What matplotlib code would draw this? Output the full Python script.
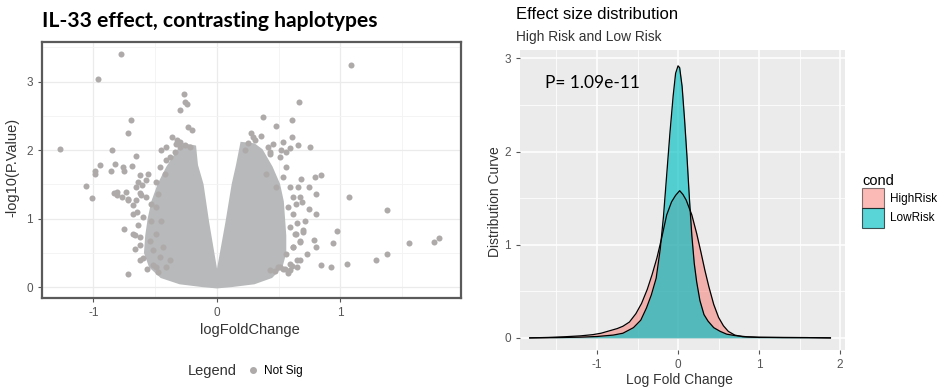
import matplotlib
matplotlib.use("Agg")
import matplotlib.pyplot as plt
from matplotlib.patches import Patch
from matplotlib.lines import Line2D

# --- volcano plot: hand-read points (logFoldChange, -log10 p) ---
pt_x = [-0.775, -0.964, -1.274, -0.267, -0.30, -0.262, -0.243, -0.694, -0.721, -0.85,
        -0.653, -0.95, -0.99, -0.985, -0.829, -0.856, -0.761, -0.756, -0.686, -1.063,
        -1.012, -0.834, -0.81, -0.734, -0.72, -0.756, -0.72, -0.564, -0.667, -0.235,
        -0.2, -0.364, -0.41, -0.33,
        -0.626, -0.559, -0.491, -0.653, -0.613, -0.572, -0.532, -0.653, -0.68, -0.599,
        -0.532, -0.68, -0.626, -0.545, -0.491, -0.518, -0.464, -0.626, -0.491, -0.41,
        -0.383, -0.437, -0.572, -0.464, -0.41, -0.383, -0.343, -0.424, -0.491, -0.451,
        -0.478, -0.302, -0.451,
        -0.326, -0.30, -0.26, -0.219, -0.81, -0.77, -0.718, -0.637, -0.61, -0.623,
        -0.678, -0.65, -0.637, -0.664, -0.623, -0.60, -0.516, -0.475,
        1.082, 0.664, 0.372, 0.48, 0.61, 0.61, 0.656, 0.756, 0.534, 0.278, 0.359,
        0.845, 0.79, 0.683, 1.069, 0.804, 0.745, 0.69, 0.745, 0.804, 1.379, 0.972,
        0.94, 1.552, 1.76, 1.80, 1.379, 1.29, 1.055, 0.926, 0.845, 0.696, 0.785, 0.80,
        0.534, 0.61, 0.65,
        0.507, 0.561, 0.534, 0.588, 0.615, 0.575, 0.615, 0.588, 0.642, 0.615, 0.561,
        0.588, 0.507, 0.467, 0.669, 0.710, 0.642, 0.656, 0.669, 0.521, 0.453, 0.426,
        0.291, 0.399, 0.48,
        0.253, 0.308, 0.227, 0.415, 0.43, 0.56, 0.59, 0.645, 0.632, 0.672, 0.618,
        0.70, 0.726, 0.672, 0.645, 0.59, 0.577, 0.496, 0.55, 0.43]
pt_y = [3.41, 3.04, 2.02, 2.82, 2.59, 2.70, 2.68, 2.44, 2.25, 2.0,
        1.92, 1.78, 1.70, 1.65, 1.80, 1.70, 1.75, 1.70, 1.77, 1.48,
        1.30, 1.37, 1.34, 1.39, 1.27, 0.85, 0.19, 0.27, 0.56, 2.34,
        2.30, 2.19, 2.04, 2.09,
        1.63, 1.65, 1.53, 1.46, 1.34, 1.31, 1.22, 1.27, 1.07, 1.02,
        0.97, 0.78, 0.73, 0.68, 0.78, 0.54, 0.44, 0.39, 0.29, 0.29,
        0.39, 0.58, 1.56, 1.75, 1.85, 1.90, 1.97, 1.65, 1.17, 0.97,
        1.36, 2.04, 2.00,
        2.15, 2.12, 2.07, 2.05, 1.39, 1.32, 1.29, 1.54, 1.49, 1.37,
        1.20, 1.10, 0.91, 0.76, 0.61, 0.42, 0.32, 0.22,
        3.25, 2.70, 2.49, 2.36, 2.44, 2.19, 2.08, 2.04, 2.12, 2.25, 2.21,
        1.64, 1.61, 1.58, 1.32, 1.36, 1.46, 1.24, 1.14, 1.07, 1.12, 0.82,
        0.64, 0.64, 0.66, 0.71, 0.49, 0.40, 0.34, 0.29, 0.32, 0.83, 0.69, 0.58,
        0.27, 0.31, 0.39,
        1.90, 1.75, 1.61, 1.46, 1.31, 1.17, 1.07, 0.88, 0.78, 0.58, 0.49,
        0.34, 0.29, 0.24, 0.68, 0.97, 1.22, 1.46, 1.31, 2.00, 2.09, 1.95,
        2.19, 1.65, 1.46,
        2.10, 2.15, 2.00, 2.05, 1.98, 1.98, 2.03, 0.93, 0.78, 0.66, 0.59,
        0.81, 0.49, 0.39, 0.30, 0.25, 0.20, 0.30, 0.27, 0.25]

# outline of the solid dense cloud (too many points to read one by one)
cloud_x = [0.0, -0.075, -0.12, -0.165, -0.18, -0.27, -0.31, -0.40, -0.47, -0.52, -0.55,
           -0.57, -0.58, -0.54, -0.45, -0.30, -0.12, 0.0, 0.12, 0.30, 0.44, 0.52, 0.55,
           0.55, 0.54, 0.53, 0.50, 0.44, 0.36, 0.30, 0.20, 0.165, 0.13, 0.08]
cloud_y = [0.15, 0.95, 1.5, 1.78, 2.05, 2.08, 2.0, 1.75, 1.5, 1.25, 1.0,
           0.75, 0.5, 0.3, 0.15, 0.06, 0.02, 0.0, 0.02, 0.06, 0.15, 0.3, 0.5,
           0.75, 1.0, 1.25, 1.5, 1.75, 2.0, 2.08, 2.1, 1.78, 1.5, 0.95]

# --- density curves ---
low_x = [-1.83, -1.5, -1.2, -1.0, -0.8, -0.68, -0.55, -0.46, -0.39, -0.33, -0.27, -0.22,
         -0.18, -0.14, -0.10, -0.06, -0.03, 0.0, 0.02, 0.05, 0.08, 0.11, 0.14, 0.17,
         0.20, 0.23, 0.27, 0.32, 0.37, 0.44, 0.52, 0.60, 0.70, 0.85, 1.0, 1.3, 1.6, 1.88]
low_y = [0.0, 0.003, 0.008, 0.015, 0.03, 0.05, 0.11, 0.19, 0.32, 0.46, 0.64, 0.95,
         1.30, 1.75, 2.20, 2.60, 2.84, 2.92, 2.90, 2.70, 2.35, 1.95, 1.50, 1.10,
         0.80, 0.60, 0.40, 0.25, 0.18, 0.11, 0.07, 0.04, 0.025, 0.012, 0.007, 0.004, 0.003, 0.0]
high_x = [-1.83, -1.6, -1.4, -1.2, -1.05, -0.95, -0.85, -0.75, -0.68, -0.6, -0.52, -0.45,
          -0.38, -0.32, -0.26, -0.2, -0.14, -0.08, -0.03, 0.02, 0.06, 0.1, 0.17, 0.23,
          0.28, 0.33, 0.38, 0.44, 0.5, 0.56, 0.62, 0.7, 0.8, 1.0, 1.3, 1.6, 1.88]
high_y = [0.0, 0.005, 0.012, 0.022, 0.035, 0.05, 0.075, 0.10, 0.125, 0.17, 0.26, 0.37,
          0.52, 0.68, 0.86, 1.08, 1.32, 1.46, 1.53, 1.58, 1.54, 1.48, 1.32, 1.12,
          0.93, 0.73, 0.55, 0.36, 0.22, 0.13, 0.07, 0.03, 0.012, 0.005, 0.004, 0.003, 0.0]

groups = ["HighRisk", "LowRisk"]
colors = ["#F8766D", "#00BFC4"]
alphas = [0.5, 0.65]
p_text = "P= 1.09e-11"

plt.rcParams['font.family'] = ['Liberation Sans', 'DejaVu Sans']
plt.rcParams['axes.unicode_minus'] = False

fig = plt.figure(figsize=(9.47, 3.89), dpi=100)

# ---------------- left panel ----------------
ax1 = fig.add_axes([42/947, 1-298/389, 419/947, 256/389])
ax1.set_facecolor("white")
ax1.fill(cloud_x, cloud_y, color="#b7b9bb", lw=2, ec="#b7b9bb", zorder=2)
ax1.scatter(pt_x, pt_y, s=19, color="#aeaaaa", lw=0, zorder=3)
ax1.set_xlim(-1.417, 1.976)
ax1.set_ylim(-0.16, 3.58)
ax1.set_xticks([-1, 0, 1])
ax1.set_yticks([0, 1, 2, 3])
ax1.set_xticks([-0.5, 0.5, 1.5], minor=True)
ax1.set_yticks([0.5, 1.5, 2.5, 3.5], minor=True)
ax1.grid(True, which="major", color="#ebebeb", lw=0.9)
ax1.grid(True, which="minor", color="#f3f3f3", lw=0.6)
ax1.set_axisbelow(True)
for s in ax1.spines.values():
    s.set_color("#5a5a5a")
    s.set_linewidth(1.6)
ax1.tick_params(which="major", length=3, color="#555555", labelcolor="#555555", labelsize=8.5)
ax1.tick_params(which="minor", length=0)

fig.text(42/947, 1-27/389, "IL-33 effect, contrasting haplotypes", fontsize=15.2,
         fontweight="bold", family="Lato", va="baseline", ha="left")
fig.text(12/947, 1-167/389, "-log10(P.Value)", rotation=90, fontsize=10.5,
         color="#333333", ha="center", va="center")
fig.text(250/947, 1-330/389, "logFoldChange", fontsize=10.5, color="#333333",
         ha="center", va="center")
fig.text(212/947, 1-371/389, "Legend", fontsize=10.5, color="#333333",
         ha="center", va="center")
fig.legend(handles=[Line2D([], [], marker="o", ls="", color="#aeaaaa", markersize=4)],
           labels=["Not Sig"], loc="center left", bbox_to_anchor=(247/947, 1-371/389),
           frameon=False, fontsize=8.5, handlelength=1.0, handletextpad=0.4,
           borderaxespad=0, borderpad=0)

# ---------------- right panel ----------------
ax2 = fig.add_axes([520/947, 1-350/389, 325/947, 300/389])
ax2.set_facecolor("#ebebeb")
for gx, gy, c, a in [(high_x, high_y, colors[0], alphas[0]), (low_x, low_y, colors[1], alphas[1])]:
    ax2.fill_between(gx, gy, 0, color=c, alpha=a, lw=0, zorder=2)
    ax2.plot(gx, gy, color="black", lw=0.9, zorder=3)
ax2.set_xlim(-1.95, 2.06)
ax2.set_ylim(-0.13, 3.09)
ax2.set_xticks([-1, 0, 1, 2])
ax2.set_yticks([0, 1, 2, 3])
ax2.set_xticks([-1.5, -0.5, 0.5, 1.5], minor=True)
ax2.set_yticks([0.5, 1.5, 2.5], minor=True)
ax2.grid(True, which="major", color="white", lw=1.1)
ax2.grid(True, which="minor", color="white", lw=0.55)
ax2.set_axisbelow(True)
for s in ax2.spines.values():
    s.set_visible(False)
ax2.tick_params(which="major", length=3, color="#555555", labelcolor="#555555", labelsize=8.5)
ax2.tick_params(which="minor", length=0)
ax2.text(0.077, 0.89, p_text, transform=ax2.transAxes, fontsize=12.5, family="Lato",
         va="center", ha="left")

fig.text(516/947, 1-19/389, "Effect size distribution", fontsize=12, va="baseline", ha="left")
fig.text(516/947, 1-41/389, "High Risk and Low Risk", fontsize=9.9, color="#333333",
         va="baseline", ha="left")
fig.text(495/947, 1-202/389, "Distribution Curve", rotation=90, fontsize=10,
         color="#333333", ha="center", va="center")
fig.text(679/947, 1-380/389, "Log Fold Change", fontsize=10, color="#333333",
         ha="center", va="center")

handles = [Patch(facecolor=c, alpha=a, edgecolor="black", lw=0.8) for c, a in zip(colors, alphas)]
fig.legend(handles=handles, labels=groups, title="cond", loc="upper left",
           bbox_to_anchor=(862/947, 1-174/389), frameon=False, fontsize=8.5,
           title_fontsize=10.5, handlelength=1.9, handleheight=2.2, handletextpad=0.5,
           labelspacing=0.0, borderaxespad=0, borderpad=0, alignment="left")

fig.savefig("out.png", dpi=100)
